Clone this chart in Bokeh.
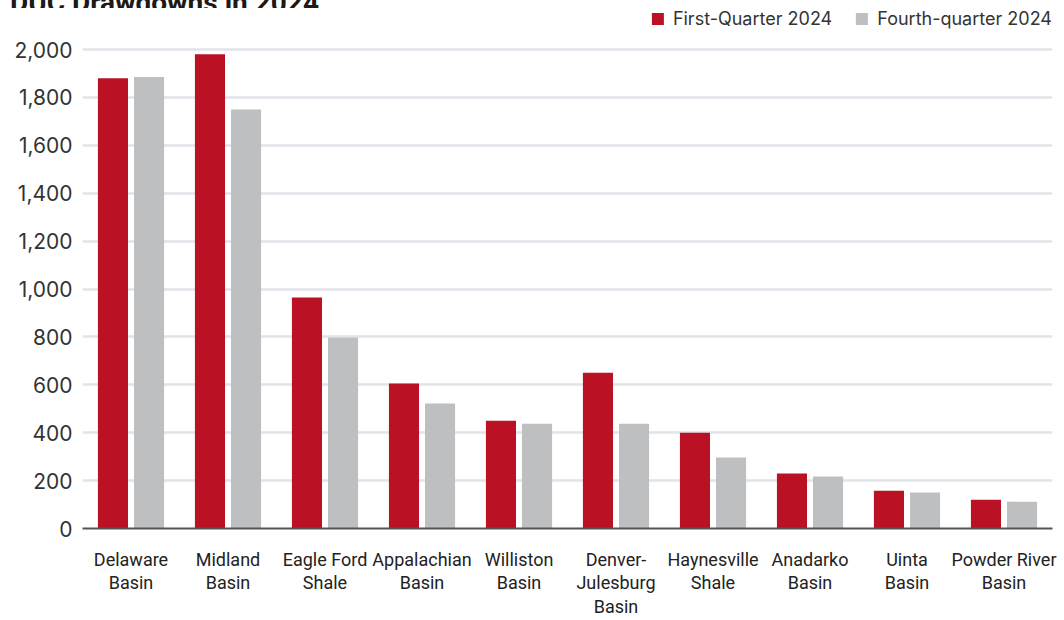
from bokeh.plotting import figure
from bokeh.models import (ColumnDataSource, FactorRange, Range1d, Legend, LegendItem,
                          NumeralTickFormatter, FixedTicker, Div)
from bokeh.layouts import column
from bokeh.transform import dodge
from bokeh.embed import file_html
from bokeh.resources import INLINE

title = "DUC Drawdowns in 2024"
basins = ["Delaware\nBasin", "Midland\nBasin", "Eagle Ford\nShale", "Appalachian\nBasin",
          "Williston\nBasin", "Denver-\nJulesburg\nBasin", "Haynesville\nShale",
          "Anadarko\nBasin", "Uinta\nBasin", "Powder River\nBasin"]
q1_2024 = [1880, 1980, 965, 605, 450, 650, 400, 230, 158, 120]
q4_2024 = [1885, 1750, 798, 522, 437, 437, 296, 217, 150, 112]
series_names = ["First-Quarter 2024", "Fourth-quarter 2024"]
y_ticks = [0, 200, 400, 600, 800, 1000, 1200, 1400, 1600, 1800, 2000]

RED = "#BA1124"
GRAY = "#BEBFC1"

src = ColumnDataSource(dict(basin=basins, q1=q1_2024, q4=q4_2024))

FRAME_BOTTOM = 528  # page y of the zero line
p = figure(width=1064, height=612, x_range=FactorRange(*basins, range_padding=0),
           y_range=Range1d(0, 2000 * (FRAME_BOTTOM - 8) / (FRAME_BOTTOM - 49)),
           output_backend="svg", toolbar_location=None,
           min_border_left=82, min_border_right=12, min_border_top=0, min_border_bottom=0)
p.outline_line_color = None
p.background_fill_color = "white"
p.border_fill_color = "white"

r1 = p.vbar(x=dodge("basin", -0.186, range=p.x_range), top="q1", width=0.31, source=src,
            fill_color=RED, line_color=None)
r2 = p.vbar(x=dodge("basin", 0.186, range=p.x_range), top="q4", width=0.31, source=src,
            fill_color=GRAY, line_color=None)

p.xgrid.grid_line_color = None
p.ygrid.grid_line_color = "#E1E4EA"
p.ygrid.grid_line_width = 2.5
p.ygrid.ticker = FixedTicker(ticks=y_ticks)

p.yaxis.ticker = FixedTicker(ticks=y_ticks)
p.yaxis.formatter = NumeralTickFormatter(format="0,0")
p.yaxis.axis_line_color = None
p.yaxis.major_tick_line_color = None
p.yaxis.minor_tick_line_color = None
p.yaxis.major_tick_out = 0
p.yaxis.major_label_text_font = "Inter"
p.yaxis.major_label_text_font_size = "21px"
p.yaxis.major_label_text_color = "#333333"
p.yaxis.major_label_standoff = 10

xa = p.xaxis[0]
xa.major_label_text_font = "Roboto"
xa.major_label_text_font_size = "18px"
xa.major_label_text_line_height = 1.14
xa.major_label_text_color = "#222222"
xa.major_label_standoff = 20
xa.major_label_orientation = "horizontal"
xa.major_tick_line_color = None
xa.minor_tick_line_color = None
xa.major_tick_out = 0
xa.major_tick_in = 0
xa.axis_line_color = "#555555"
xa.axis_line_width = 2

legend = Legend(items=[LegendItem(label=series_names[0], renderers=[r1]),
                       LegendItem(label=series_names[1], renderers=[r2])],
                orientation="horizontal", location="top_right",
                label_text_font="Inter", label_text_font_size="18px", label_text_color="#333333",
                glyph_width=15, glyph_height=15, spacing=22, label_standoff=8,
                border_line_color=None, background_fill_alpha=0, padding=0, margin=0)
p.add_layout(legend, "center")

head = Div(text='<div style="margin-top:-23px;margin-left:10px;font-family:Roboto;'
                'font-weight:bold;font-size:28px;line-height:28px;color:#1a1a1a;'
                'white-space:nowrap">' + title + '</div>',
           width=1064, height=8, margin=(0, 0, 0, 0), styles={"overflow": "hidden"})

layout = column(head, p, spacing=0, margin=(0, 0, 0, 0))

open("out.html", "w").write(file_html(layout, INLINE))
